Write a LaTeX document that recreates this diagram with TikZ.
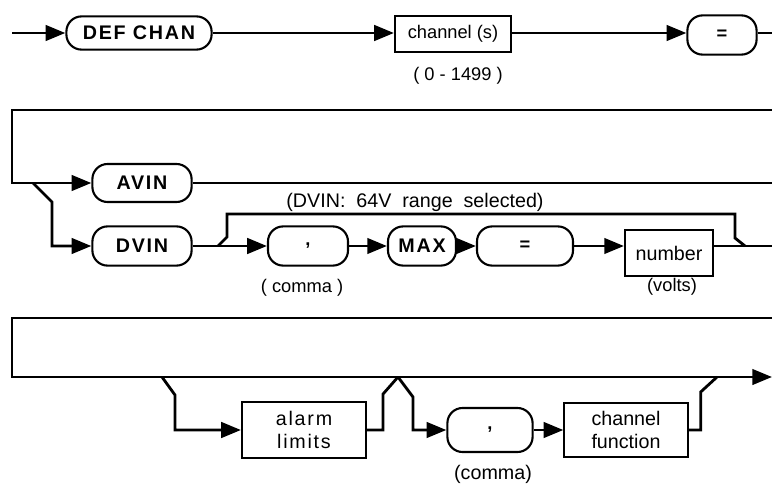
\documentclass[tikz,border=0pt]{standalone}
\usepackage{fontspec}
\setmainfont{Liberation Sans}
\newfontfamily\kwfont{Liberation Sans}[LetterSpace=9]
\usetikzlibrary{arrows.meta, calc}

\tikzset{
  flow/.style={line width=2pt},
  arr/.style={-{Triangle[length=14pt,width=11pt]}},
  kw/.style={draw, line width=1.5pt, rounded corners=0.38cm, inner sep=0pt,
    font=\kwfont\bfseries\fontsize{14}{16}\selectfont},
  sym/.style={draw, line width=1.5pt, rounded corners=0.38cm, inner sep=0pt,
    font=\bfseries\fontsize{13}{15}\selectfont},
  box/.style={draw, line width=1.5pt, inner sep=0pt, align=center,
    font=\fontsize{13}{15}\selectfont},
  lbl/.style={font=\fontsize{13}{15}\selectfont}
}

\begin{document}
\begin{tikzpicture}[x=0.025cm, y=-0.025cm]
\useasboundingbox (0,0) rectangle (772,487);

% Linha 1
\node[kw, minimum width=3.63cm, minimum height=0.83cm] (defchan) at (139,33) {DEF CHAN};
\node[box, minimum width=2.9cm, minimum height=0.9cm] (chan) at (453,34) {channel (s)};
\node[lbl] (rng) at (458,76) {( 0 - 1499 )};
\node[sym, minimum width=1.73cm, minimum height=0.98cm] (eq1) at (722,35) {=};
\coordinate (in) at (12,33);
\coordinate (out1) at (772,33);
\draw[flow,arr] (in) -- (defchan);
\draw[flow,arr] (defchan) -- (defchan -| chan.west);
\draw[flow,arr] (chan.east |- defchan) -- (defchan -| eq1.west);
\draw[flow] (eq1.east |- out1) -- (out1);

% Linha 2
\node[kw, minimum width=2.48cm, minimum height=0.95cm] (avin) at (142,183) {AVIN};
\node[kw, minimum width=2.48cm, minimum height=0.98cm] (dvin) at (142,246) {DVIN};
\node[sym, minimum width=2cm, minimum height=0.98cm] (comma1) at (308,246) {,};
\node[kw, minimum width=1.7cm, minimum height=0.98cm] (max) at (422,246) {MAX};
\node[sym, minimum width=2.4cm, minimum height=0.98cm] (eq2) at (525,246) {=};
\node[box, font=\fontsize{14}{16}\selectfont, minimum width=2.2cm, minimum height=1.13cm] (number) at (669,253) {number};
\node[lbl, font=\fontsize{14}{16}\selectfont] (note) at (415,202) {(DVIN:\ \ 64V\ \ range\ \ selected)};
\node[lbl] (c1lbl) at (302,288) {( comma )};
\node[lbl] (vlbl) at (672,287) {(volts)};
\coordinate (r2in) at (772,110);
\coordinate (split) at (33,183);
\coordinate (r2out) at (772,183);
\coordinate (byin) at (218,246);
\coordinate (byout) at (745,246);
\coordinate (r2end) at (772,246);
\draw[flow,arr] (r2in) -- (12,110) |- (avin);
\draw[flow] (avin) -- (r2out);
\draw[flow,arr] (split) -- ++(19,19) |- (dvin);
\draw[flow,arr] (dvin) -- (comma1);
\draw[flow,arr] (comma1) -- (max);
\draw[flow,arr] (max) -- (eq2);
\draw[flow,arr] (eq2) -- (eq2 -| number.west);
\draw[flow] (number.east |- r2end) -- (r2end);
\draw[flow] (byin) -- ++(9,-9) -- ++(0,-23) -- ++(508,0) -- ++(0,24) -- (byout);

% Linha 3
\node[box, font=\kwfont\fontsize{14}{17}\selectfont, minimum width=3.1cm, minimum height=1.38cm] (alarm) at (304,430) {alarm\\limits};
\node[sym, minimum width=2.13cm, minimum height=1.1cm] (comma2) at (490,430) {,};
\node[box, font=\fontsize{14}{17}\selectfont, minimum width=3.08cm, minimum height=1.35cm] (chanfn) at (626,430) {channel\\function};
\node[lbl, font=\fontsize{14}{16}\selectfont] (c2lbl) at (493,474) {(comma)};
\coordinate (r3in) at (772,318);
\coordinate (r3out) at (772,377);
\coordinate (fork) at (162,377);
\coordinate (join) at (398,377);
\coordinate (join2) at (717,377);
\draw[flow,arr] (r3in) -- (12,318) |- (r3out);
\draw[flow,arr] (fork) -- ++(13,18) |- (alarm);
\draw[flow] (alarm.east) -- ++(16,0) -- ++(0,-36) -- (join);
\draw[flow,arr] (join) -- ++(15,20) |- (comma2);
\draw[flow,arr] (comma2) -- (chanfn);
\draw[flow] (chanfn.east) -- ++(12,0) -- ++(0,-38) -- (join2);
\end{tikzpicture}
\end{document}
